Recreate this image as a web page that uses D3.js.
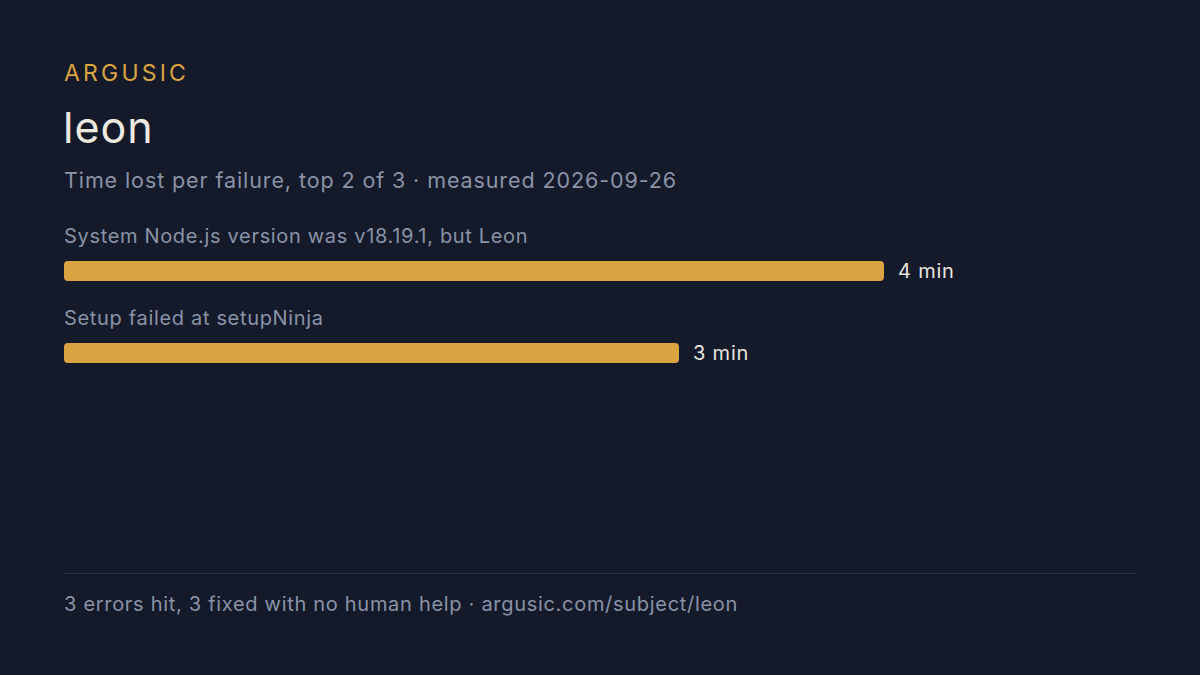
<!DOCTYPE html>
<html><head><meta charset="utf-8">
<script src="https://cdn.jsdelivr.net/npm/d3@7"></script>
<style>
html,body{margin:0;padding:0;background:#141a2a;}
svg{display:block;}
text{font-family:Inter,"Noto Sans",sans-serif;}
</style></head>
<body>
<svg id="c" width="1200" height="675"></svg>
<script>
const brand = "ARGUSIC";
const title = "leon";
const subtitle = "Time lost per failure, top 2 of 3 · measured 2026-09-26";
const categories = ["System Node.js version was v18.19.1, but Leon", "Setup failed at setupNinja"];
const values = [4, 3];
const valueLabels = ["4 min", "3 min"];
const footer = "3 errors hit, 3 fixed with no human help · argusic.com/subject/leon";

const svg = d3.select("#c");
svg.append("rect").attr("width",1200).attr("height",675).attr("fill","#141a2a");

svg.append("text").attr("x",64).attr("y",81).attr("fill","#dba443")
  .attr("font-size",23).attr("letter-spacing",3.2).text(brand);
svg.append("text").attr("x",63).attr("y",143).attr("fill","#efeae0")
  .attr("font-size",43).attr("letter-spacing",1).text(title);
svg.append("text").attr("x",64).attr("y",188).attr("fill","#8a93a6")
  .attr("font-size",21.5).attr("letter-spacing",0.9).text(subtitle);

const x = d3.scaleLinear().domain([0,4]).range([0,820]);
const y = d3.scaleBand().domain(categories).range([218,382]).paddingInner(0);

const g = svg.append("g");
categories.forEach((c,i)=>{
  const top = y(c);
  g.append("text").attr("x",64).attr("y",top+25).attr("fill","#8a93a6")
    .attr("font-size",20).attr("letter-spacing",0.67).text(c);
  g.append("rect").attr("x",64).attr("y",top+43).attr("width",x(values[i]))
    .attr("height",20).attr("rx",4).attr("fill","#dba443");
  g.append("text").attr("x",64+x(values[i])+14).attr("y",top+60).attr("fill","#e8e6e0")
    .attr("font-size",20).attr("letter-spacing",0.8).text(valueLabels[i]);
});

svg.append("line").attr("x1",64).attr("x2",1136).attr("y1",573.5).attr("y2",573.5)
  .attr("stroke","#2a3244").attr("stroke-width",1);
svg.append("text").attr("x",64).attr("y",611).attr("fill","#8a93a6")
  .attr("font-size",20).attr("letter-spacing",0.7).text(footer);
</script>
</body></html>
